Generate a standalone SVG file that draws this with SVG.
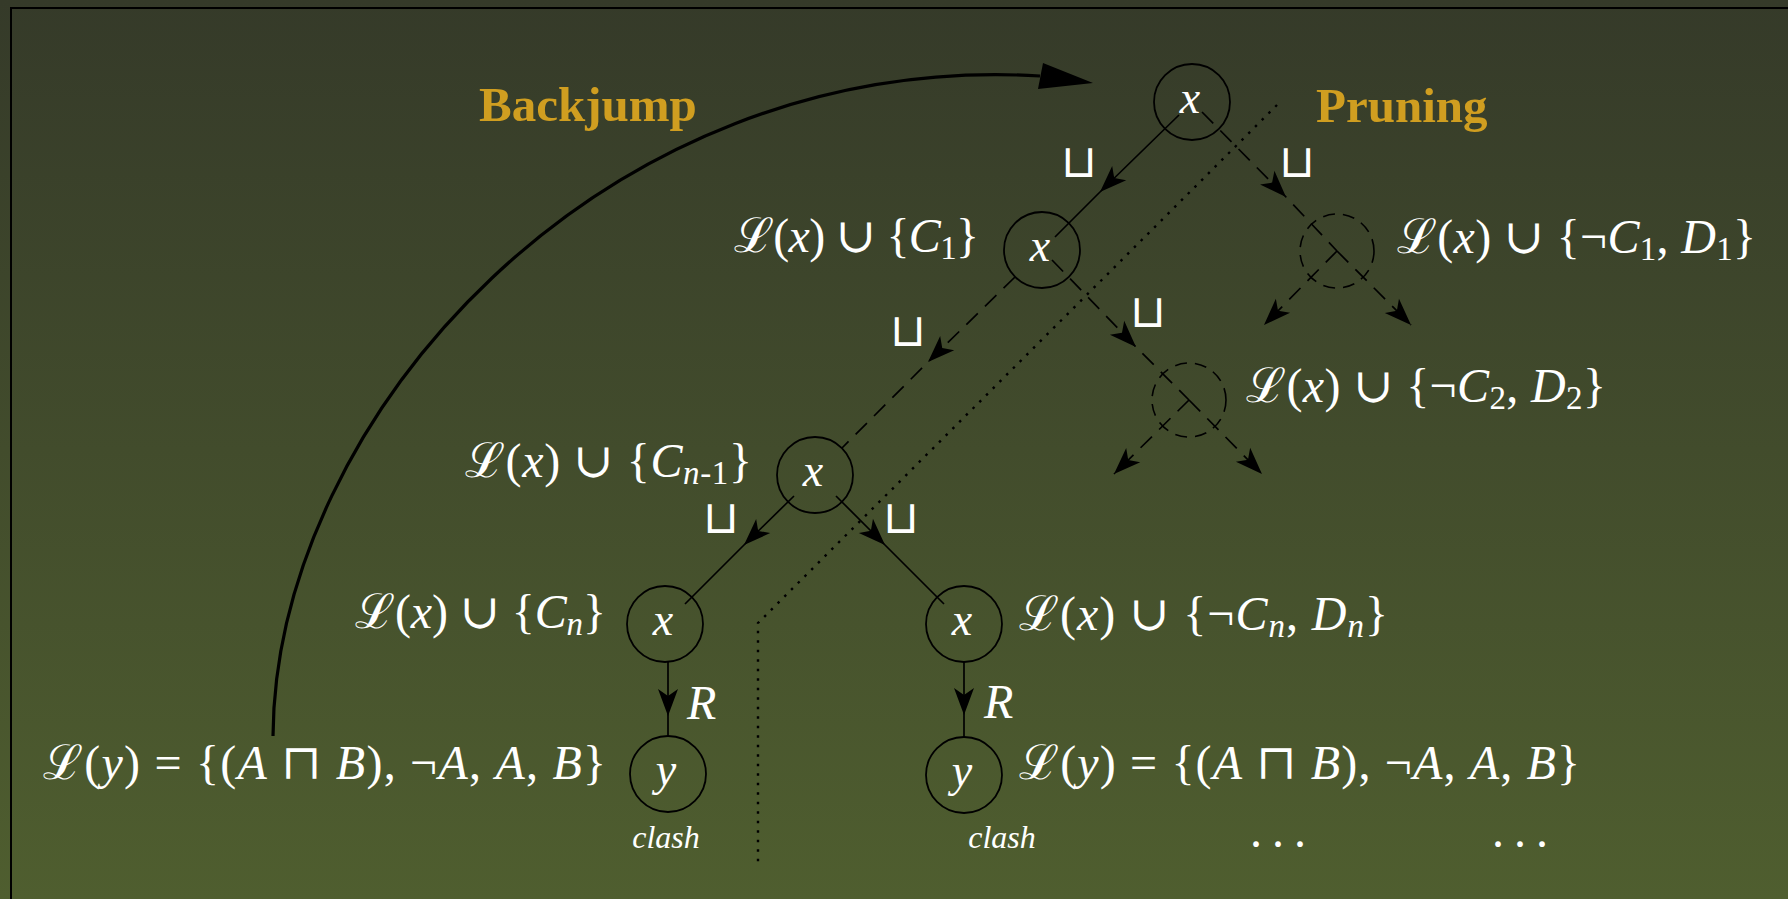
<svg xmlns="http://www.w3.org/2000/svg" width="1788" height="899" viewBox="0 0 1788 899">
<defs>
<linearGradient id="bg" x1="0" y1="0" x2="0" y2="1">
<stop offset="0" stop-color="#353a29"/>
<stop offset="1" stop-color="#4f5e2f"/>
</linearGradient>
<marker id="ar" markerUnits="userSpaceOnUse" markerWidth="32" markerHeight="24" viewBox="-30 -12 32 24" refX="0" refY="0" orient="auto" overflow="visible">
<path d="M0,0 L-27,-10 L-20,0 L-27,10 Z" fill="#000" stroke="none"/>
</marker>
<style>
.m{font-family:"Liberation Serif","DejaVu Serif",serif;font-size:48px;fill:#fff}
.i{font-style:italic}
.s{font-size:33px}
.nd{fill:none;stroke:#000;stroke-width:1.8}
.dn{fill:none;stroke:#000;stroke-width:1.6;stroke-dasharray:12 8}
.lt{font-family:"Liberation Serif","DejaVu Serif",serif;font-style:italic;font-size:46px;fill:#fff;text-anchor:middle}
.e{fill:none;stroke:#000;stroke-width:1.7;marker-mid:url(#ar)}
.d{fill:none;stroke:#000;stroke-width:1.7;stroke-dasharray:16 10}
.de{fill:none;stroke:#000;stroke-width:1.7;stroke-dasharray:16 10;marker-end:url(#ar)}
.dm{marker-mid:url(#ar)}
.cup{font-family:"DejaVu Sans",sans-serif;font-weight:200;font-size:46px;fill:#fff;text-anchor:middle}
.ttl{font-family:"Liberation Serif",serif;font-weight:bold;font-size:49px;fill:#d09e20}
.cl{font-family:"Liberation Serif",serif;font-style:italic;font-size:32px;fill:#fff;text-anchor:middle}
</style>
</defs>
<rect x="0" y="0" width="1788" height="899" fill="url(#bg)"/>
<rect x="11" y="8" width="1800" height="920" fill="none" stroke="#000" stroke-width="2"/>

<g id="titles">
<text class="ttl" x="479" y="121">Backjump</text>
<text class="ttl" x="1316" y="122">Pruning</text>
</g>

<g id="connectors">
<path class="e" d="M1179,115 L1100,192 L1055,237"/>
<path class="d dm" d="M1202,112 L1286,197 L1337,251"/>
<path class="d dm" d="M1052,260 L1136,347 L1189,400"/>
<path class="d dm" d="M1015,277 L928,362 L842,448"/>
<path class="e" d="M794,496 L744,545 L685,604"/>
<path class="e" d="M836,496 L885,545 L944,604"/>
<path class="e" d="M668,662 L668,716 L668,736"/>
<path class="e" d="M964,662 L964,715 L964,737"/>
<path class="de" d="M1337,251 L1264,325"/>
<path class="de" d="M1337,251 L1411,325"/>
<path class="de" d="M1189,400 L1114,474"/>
<path class="de" d="M1189,400 L1262,474"/>
<path d="M1277,105 L758,623 L758,863" fill="none" stroke="#000" stroke-width="2.4" stroke-dasharray="2.5 7"/>
<path d="M273,736 C275,420 600,50 1040,76" fill="none" stroke="#000" stroke-width="3.2"/>
<polygon points="1093,83 1043,63 1038,89" fill="#000"/>
<text class="cup" x="1079" y="177">⊔</text>
<text class="cup" x="1297" y="177">⊔</text>
<text class="cup" x="908" y="346">⊔</text>
<text class="cup" x="1148" y="327">⊔</text>
<text class="cup" x="721" y="533">⊔</text>
<text class="cup" x="901" y="533">⊔</text>
<text class="m i" x="687" y="719">R</text>
<text class="m i" x="984" y="718">R</text>
</g>

<g id="n0">
<circle class="nd" cx="1192" cy="102" r="38"/>
<text class="lt" x="1190" y="113">x</text>
</g>

<g id="n1">
<circle class="nd" cx="1042" cy="250" r="38"/>
<text class="lt" x="1040" y="261">x</text>
<text class="m" x="734" y="252" textLength="245">ℒ(<tspan class="i">x</tspan>) ∪ {<tspan class="i">C</tspan><tspan class="s" dy="7">1</tspan><tspan dy="-7">}</tspan></text>
</g>

<g id="d1">
<circle class="dn" cx="1337" cy="251" r="37"/>
<text class="m" x="1397" y="253" textLength="359">ℒ(<tspan class="i">x</tspan>) ∪ {¬<tspan class="i">C</tspan><tspan class="s" dy="7">1</tspan><tspan dy="-7">, </tspan><tspan class="i">D</tspan><tspan class="s" dy="7">1</tspan><tspan dy="-7">}</tspan></text>
</g>

<g id="d2">
<circle class="dn" cx="1189" cy="400" r="37"/>
<text class="m" x="1246" y="402" textLength="360">ℒ(<tspan class="i">x</tspan>) ∪ {¬<tspan class="i">C</tspan><tspan class="s" dy="7">2</tspan><tspan dy="-7">, </tspan><tspan class="i">D</tspan><tspan class="s" dy="7">2</tspan><tspan dy="-7">}</tspan></text>
</g>

<g id="n2">
<circle class="nd" cx="815" cy="475" r="38"/>
<text class="lt" x="813" y="486">x</text>
<text class="m" x="465" y="477" textLength="287">ℒ(<tspan class="i">x</tspan>) ∪ {<tspan class="i">C</tspan><tspan class="s" dy="7"><tspan class="i">n</tspan>-1</tspan><tspan dy="-7">}</tspan></text>
</g>

<g id="n3">
<circle class="nd" cx="665" cy="624" r="38"/>
<text class="lt" x="663" y="635">x</text>
<text class="m" x="355" y="628" textLength="251">ℒ(<tspan class="i">x</tspan>) ∪ {<tspan class="i">C</tspan><tspan class="s i" dy="7">n</tspan><tspan dy="-7">}</tspan></text>
</g>

<g id="n4">
<circle class="nd" cx="964" cy="624" r="38"/>
<text class="lt" x="962" y="635">x</text>
<text class="m" x="1019" y="630" textLength="369">ℒ(<tspan class="i">x</tspan>) ∪ {¬<tspan class="i">C</tspan><tspan class="s i" dy="7">n</tspan><tspan dy="-7">, </tspan><tspan class="i">D</tspan><tspan class="s i" dy="7">n</tspan><tspan dy="-7">}</tspan></text>
</g>

<g id="y1">
<circle class="nd" cx="668" cy="774" r="38"/>
<text class="lt" x="666" y="785">y</text>
<text class="m" x="43" y="779" textLength="563">ℒ(<tspan class="i">y</tspan>) = {(<tspan class="i">A</tspan> ⊓ <tspan class="i">B</tspan>), ¬<tspan class="i">A</tspan>, <tspan class="i">A</tspan>, <tspan class="i">B</tspan>}</text>
<text class="cl" x="666" y="848">clash</text>
</g>

<g id="y2">
<circle class="nd" cx="964" cy="775" r="38"/>
<text class="lt" x="962" y="786">y</text>
<text class="m" x="1019" y="779" textLength="561">ℒ(<tspan class="i">y</tspan>) = {(<tspan class="i">A</tspan> ⊓ <tspan class="i">B</tspan>), ¬<tspan class="i">A</tspan>, <tspan class="i">A</tspan>, <tspan class="i">B</tspan>}</text>
<text class="cl" x="1002" y="848">clash</text>
</g>

<g id="ellipses">
<text class="m" x="1250" y="847" letter-spacing="10">...</text>
<text class="m" x="1492" y="847" letter-spacing="10">...</text>
</g>
</svg>
